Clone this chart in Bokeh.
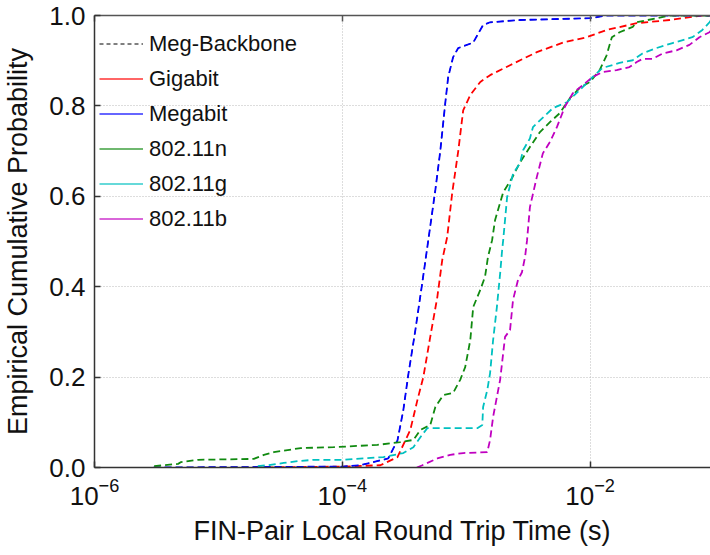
from bokeh.plotting import figure
from bokeh.models import (Range1d, FixedTicker, LogAxis, PrintfTickFormatter,
                          Legend, LegendItem, LogTickFormatter)
from bokeh.embed import file_html
from bokeh.resources import INLINE

# ---- data ----
backbone_x = [3.0e-6, 1.0e-4, 1.40e-4, 2.35e-4, 2.79e-4, 3.11e-4, 3.41e-4, 3.89e-4, 4.42e-4,
              4.93e-4, 5.64e-4, 6.18e-4, 6.78e-4, 7.16e-4, 7.85e-4, 8.63e-4, 1.14e-3, 1.30e-3,
              1.37e-3, 1.56e-3, 2.72e-3, 1.0e-2, 1.36e-2, 1.0e-1]
backbone_y = [0.0, 0.002, 0.005, 0.02, 0.06, 0.127, 0.205, 0.304, 0.408,
              0.50, 0.614, 0.70, 0.806, 0.864, 0.908, 0.928, 0.94, 0.968,
              0.979, 0.985, 0.99, 0.994, 1.0, 1.0]

megabit_x = [3.0e-6, 1.0e-4, 1.40e-4, 2.35e-4, 2.79e-4, 3.11e-4, 3.41e-4, 3.89e-4, 4.42e-4,
             4.93e-4, 5.64e-4, 6.18e-4, 6.78e-4, 7.16e-4, 7.85e-4, 8.63e-4, 1.14e-3, 1.30e-3,
             1.37e-3, 1.56e-3, 2.72e-3, 1.0e-2, 1.36e-2, 1.0e-1]
megabit_y = [0.0, 0.002, 0.005, 0.02, 0.06, 0.127, 0.205, 0.304, 0.408,
             0.50, 0.614, 0.70, 0.806, 0.864, 0.908, 0.928, 0.94, 0.968,
             0.979, 0.985, 0.99, 0.994, 1.0, 1.0]

gigabit_x = [2.0e-5, 1.0e-4, 2.03e-4, 2.79e-4, 3.54e-4, 4.04e-4, 4.51e-4, 5.13e-4, 5.85e-4,
             6.41e-4, 7.03e-4, 7.71e-4, 8.63e-4, 9.46e-4, 1.08e-3, 1.30e-3, 1.56e-3, 2.26e-3,
             3.72e-3, 6.03e-3, 9.40e-3, 1.36e-2, 2.38e-2, 4.39e-2, 8.07e-2, 1.0e-1]
gigabit_y = [0.0, 0.002, 0.005, 0.023, 0.083, 0.149, 0.2, 0.289, 0.377,
             0.459, 0.51, 0.607, 0.70, 0.79, 0.824, 0.853, 0.868, 0.89,
             0.919, 0.94, 0.952, 0.968, 0.983, 0.99, 1.0, 1.0]

n_x = [3.03e-6, 4.73e-6, 5.0e-6, 6.85e-6, 1.93e-5, 2.33e-5, 2.80e-5, 4.62e-5, 8.51e-5,
       1.92e-4, 2.94e-4, 3.75e-4, 4.27e-4, 5.13e-4, 5.64e-4, 6.53e-4, 7.85e-4, 8.95e-4,
       9.82e-4, 1.08e-3, 1.14e-3, 1.30e-3, 1.42e-3, 1.50e-3, 1.62e-3, 1.71e-3, 1.99e-3,
       2.34e-3, 2.72e-3, 3.27e-3, 3.94e-3, 4.74e-3, 5.70e-3, 6.87e-3, 8.26e-3, 1.0e-2,
       1.20e-2, 1.36e-2, 1.50e-2, 1.73e-2, 2.21e-2, 2.38e-2, 3.44e-2, 4.38e-2, 1.0e-1]
n_y = [0.003, 0.008, 0.012, 0.017, 0.019, 0.028, 0.034, 0.043, 0.045,
       0.05, 0.056, 0.061, 0.083, 0.094, 0.134, 0.16, 0.165, 0.194,
       0.222, 0.282, 0.355, 0.393, 0.422, 0.466, 0.503, 0.547, 0.609,
       0.64, 0.675, 0.709, 0.742, 0.764, 0.784, 0.817, 0.84, 0.853,
       0.88, 0.912, 0.952, 0.963, 0.975, 0.985, 0.994, 1.0, 1.0]

g_x = [2.08e-5, 2.51e-5, 3.37e-5, 4.37e-5, 5.87e-5, 1.02e-4, 2.15e-4, 3.11e-4, 3.75e-4,
       4.27e-4, 4.85e-4, 1.23e-3, 1.35e-3, 1.37e-3, 1.48e-3, 1.56e-3, 1.65e-3, 1.77e-3,
       1.88e-3, 1.95e-3, 1.99e-3, 2.14e-3, 2.39e-3, 2.72e-3, 2.88e-3, 3.27e-3, 3.46e-3,
       3.94e-3, 5.01e-3, 6.50e-3, 8.26e-3, 1.05e-2, 1.26e-2, 1.73e-2, 2.21e-2, 2.65e-2,
       3.44e-2, 4.63e-2, 6.70e-2, 8.07e-2, 9.20e-2, 1.0e-1]
g_y = [0.003, 0.005, 0.01, 0.014, 0.017, 0.017, 0.023, 0.032, 0.045,
       0.067, 0.087, 0.087, 0.094, 0.134, 0.171, 0.209, 0.282, 0.355,
       0.429, 0.48, 0.503, 0.598, 0.65, 0.673, 0.702, 0.728, 0.753,
       0.768, 0.795, 0.808, 0.835, 0.864, 0.884, 0.895, 0.901, 0.916,
       0.928, 0.939, 0.952, 0.968, 0.985, 1.0]

b_x = [4.0e-4, 4.43e-4, 5.85e-4, 7.43e-4, 9.46e-4, 1.48e-3, 1.56e-3, 1.65e-3, 1.77e-3,
       1.88e-3, 1.99e-3, 2.06e-3, 2.26e-3, 2.39e-3, 2.62e-3, 2.82e-3, 2.99e-3, 3.10e-3,
       3.27e-3, 3.72e-3, 4.16e-3, 4.74e-3, 5.40e-3, 6.26e-3, 7.26e-3, 8.73e-3, 1.05e-2,
       1.26e-2, 1.64e-2, 2.08e-2, 2.38e-2, 2.65e-2, 3.19e-2, 3.85e-2, 4.99e-2, 6.34e-2,
       7.64e-2, 9.20e-2, 1.0e-1]
b_y = [0.0, 0.005, 0.02, 0.028, 0.032, 0.034, 0.061, 0.112, 0.156,
       0.194, 0.253, 0.289, 0.304, 0.371, 0.415, 0.432, 0.466, 0.503,
       0.576, 0.643, 0.695, 0.72, 0.753, 0.798, 0.828, 0.846, 0.864,
       0.875, 0.879, 0.886, 0.897, 0.904, 0.904, 0.916, 0.923, 0.935,
       0.952, 0.963, 0.975]

series = [
    ("Meg-Backbone", backbone_x, backbone_y, "#000000"),
    ("Gigabit", gigabit_x, gigabit_y, "#FF0000"),
    ("Megabit", megabit_x, megabit_y, "#0000FF"),
    ("802.11n", n_x, n_y, "#108A10"),
    ("802.11g", g_x, g_y, "#00C0C0"),
    ("802.11b", b_x, b_y, "#C000C0"),
]

x_ticks = [1e-6, 1e-4, 1e-2]
y_ticks = [0.0, 0.2, 0.4, 0.6, 0.8, 1.0]

FONT = "Liberation Sans"

p = figure(width=710, height=553, x_axis_type="log",
           x_range=Range1d(1e-6, 0.0938), y_range=Range1d(0, 1),
           output_backend="svg", toolbar_location=None,
           min_border_left=92, min_border_right=0, min_border_top=15, min_border_bottom=86)
p.outline_line_color = None
p.background_fill_color = "white"

for i, (name, xs, ys, col) in enumerate(series):
    p.line(xs, ys, line_color=col, line_width=1.0 if i == 0 else 1.8, line_dash="7 4")

# axes styling
xa = p.xaxis[0]
xa.ticker = FixedTicker(ticks=x_ticks, minor_ticks=[])
xa.formatter = LogTickFormatter()
ya = p.yaxis[0]
ya.ticker = FixedTicker(ticks=y_ticks, minor_ticks=[])
ya.formatter = PrintfTickFormatter(format="%.1f")

for ax in (xa, ya):
    ax.axis_line_color = "#333333"
    ax.axis_line_width = 1.5
    ax.major_tick_in = 6
    ax.major_tick_out = 0
    ax.major_tick_line_color = "#333333"
    ax.major_tick_line_width = 1.5
    ax.minor_tick_line_color = None
    ax.major_label_text_font = FONT
    ax.major_label_text_font_size = "26px"
    ax.major_label_text_color = "#111111"
    ax.axis_label_text_font = FONT
    ax.axis_label_text_font_size = "27px"
    ax.axis_label_text_font_style = "normal"
    ax.axis_label_text_color = "#111111"

xa.axis_label = "FIN-Pair Local Round Trip Time (s)"
xa.major_label_standoff = 10
xa.axis_label_standoff = 8
ya.axis_label = "Empirical Cumulative Probability"
ya.major_label_standoff = 9
ya.axis_label_standoff = 13

top = LogAxis(ticker=FixedTicker(ticks=x_ticks, minor_ticks=[]),
              major_label_text_font_size="0px", major_label_text_color=None,
              major_label_standoff=0,
              axis_line_color="#555555", axis_line_width=1.5,
              major_tick_in=6, major_tick_out=0, major_tick_line_color="#555555",
              major_tick_line_width=1.5, minor_tick_line_color=None)
p.add_layout(top, "above")

for g in (p.xgrid[0], p.ygrid[0]):
    g.grid_line_color = "#bbbbbb"
    g.grid_line_dash = "1 2"
    g.grid_line_width = 1
p.xgrid[0].ticker = FixedTicker(ticks=x_ticks[1:])
p.ygrid[0].ticker = FixedTicker(ticks=y_ticks[1:-1])

# legend with its own proxy glyphs (single point, so nothing is drawn in the plot)
items = []
for i, (name, xs, ys, col) in enumerate(series):
    if i == 0:
        r = p.line(xs[:1], ys[:1], line_color=col, line_width=1, line_dash="4 3")
    else:
        r = p.line(xs[:1], ys[:1], line_color=col, line_width=1.5, line_alpha=0.8)
    items.append(LegendItem(label=name, renderers=[r]))

legend = Legend(items=items, location=(5, 231), padding=5, margin=0,
                border_line_color=None, background_fill_alpha=0,
                glyph_width=44, glyph_height=35, spacing=0, label_standoff=6,
                label_text_font=FONT, label_text_font_size="22px",
                label_text_color="#111111", label_height=35)
p.add_layout(legend, "center")

open("out.html", "w").write(file_html(p, INLINE))
